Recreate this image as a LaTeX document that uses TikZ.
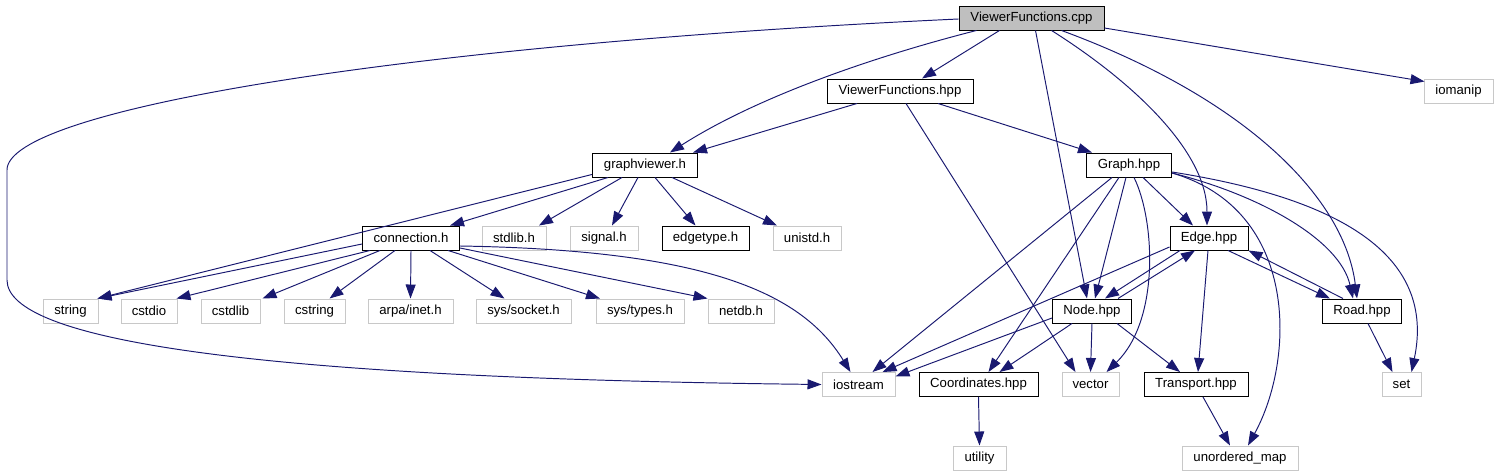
\documentclass[tikz,border=0pt]{standalone}
\usepackage{fontspec}
\setmainfont{Liberation Sans}
\usetikzlibrary{arrows.meta,calc}

\definecolor{depblue}{HTML}{191970}
\definecolor{rootgray}{HTML}{BFBFBF}
\definecolor{sysgray}{HTML}{C8C8C8}

\tikzset{
  file/.style={draw=black, rectangle, inner sep=0pt, line width=0.55pt,
    minimum height=0.48cm, font=\fontsize{7.5}{9}\selectfont},
  sysfile/.style={file, draw=sysgray},
  rootfile/.style={file, fill=rootgray},
  boxw/.style={minimum width=#1*0.02cm},
  dep/.style={draw=depblue, line width=0.55pt,
    -{Triangle[length=0.28cm,width=0.2cm]}},
}

\begin{document}
\begin{tikzpicture}[x=0.02cm, y=-0.02cm]
    \useasboundingbox (0,0) rectangle (1498,476);

    % files
    \node[rootfile, boxw=145] (vfcpp) at (1031.5,18) {ViewerFunctions.cpp};
    \node[file, boxw=146] (vfhpp) at (900,91) {ViewerFunctions.hpp};
    \node[sysfile, boxw=69] (iomanip) at (1458.5,91) {iomanip};
    \node[file, boxw=105] (gview) at (645,165) {graphviewer.h};
    \node[file, boxw=85] (graphh) at (1129,165) {Graph.hpp};
    \node[file, boxw=97] (connh) at (411,238) {connection.h};
    \node[sysfile, boxw=64] (stdlibh) at (514,238) {stdlib.h};
    \node[sysfile, boxw=68] (signalh) at (604,238) {signal.h};
    \node[file, boxw=87] (edgetypeh) at (705.5,238) {edgetype.h};
    \node[sysfile, boxw=68] (unistdh) at (807,238) {unistd.h};
    \node[file, boxw=78] (edgeh) at (1209,238) {Edge.hpp};
    \node[sysfile, boxw=55] (string) at (70.5,311) {string};
    \node[sysfile, boxw=56] (cstdio) at (149,311) {cstdio};
    \node[sysfile, boxw=59] (cstdlib) at (230.5,311) {cstdlib};
    \node[sysfile, boxw=61] (cstring) at (314.5,311) {cstring};
    \node[sysfile, boxw=85] (arpainet) at (410.5,311) {arpa/inet.h};
    \node[sysfile, boxw=95] (syssocket) at (523.5,311) {sys/socket.h};
    \node[sysfile, boxw=88] (systypes) at (640,311) {sys/types.h};
    \node[sysfile, boxw=66] (netdb) at (741,311) {netdb.h};
    \node[file, boxw=79] (nodeh) at (1092,311) {Node.hpp};
    \node[file, boxw=79] (roadh) at (1362,311) {Road.hpp};
    \node[sysfile, boxw=73] (iostream) at (858.5,384.5) {iostream};
    \node[file, boxw=119] (coordh) at (978.5,384.5) {Coordinates.hpp};
    \node[sysfile, boxw=57] (vector) at (1090.5,384.5) {vector};
    \node[file, boxw=104] (transph) at (1196,384.5) {Transport.hpp};
    \node[sysfile, boxw=39] (set) at (1401.5,384.5) {set};
    \node[sysfile, boxw=53] (utility) at (979.5,458) {utility};
    \node[sysfile, boxw=116] (umap) at (1240,458) {unordered\_map};

    % ViewerFunctions.cpp
    \draw[dep] ($(vfcpp.west)+(0,1)$) .. controls (400,45) and (7,110) .. (7,170)
        -- (7,280) .. controls (7,340) and (250,378) .. (iostream.west);
    \draw[dep] ($(vfcpp.south)+(-32,0)$) -- ($(vfhpp.north)+(22,0)$);
    \draw[dep] ($(vfcpp.south)+(-55,0)$) .. controls (880,55) and (760,95) .. ($(gview.north)+(25,0)$);
    \draw[dep] ($(vfcpp.south)+(4,0)$) -- ($(nodeh.north)+(-5,0)$);
    \draw[dep] ($(vfcpp.south)+(20,0)$) .. controls (1130,80) and (1207,150) .. ($(edgeh.north)+(-2,0)$);
    \draw[dep] ($(vfcpp.south)+(30,0)$) .. controls (1250,100) and (1345,200) .. ($(roadh.north)+(-5,0)$);
    \draw[dep] ($(vfcpp.east)+(0,10)$) -- ($(iomanip.north west)+(1,3)$);

    % ViewerFunctions.hpp
    \draw[dep] ($(vfhpp.south)+(-43,0)$) -- ($(gview.north)+(48,0)$);
    \draw[dep] ($(vfhpp.south)+(38,0)$) -- ($(graphh.north)+(-37,0)$);
    \draw[dep] ($(vfhpp.south)+(6,0)$) -- ($(vector.north)+(-15,0)$);

    % graphviewer.h
    \draw[dep] ($(gview.south west)+(0,-3)$) -- ($(string.north east)+(-1,0)$);
    \draw[dep] ($(gview.south)+(-37,0)$) -- ($(connh.north)+(39,0)$);
    \draw[dep] ($(gview.south)+(-23,0)$) -- ($(stdlibh.north)+(25,0)$);
    \draw[dep] ($(gview.south)+(-7,0)$) -- ($(signalh.north)+(8,0)$);
    \draw[dep] ($(gview.south)+(10,0)$) -- ($(edgetypeh.north)+(-10,0)$);
    \draw[dep] ($(gview.south)+(27,0)$) -- ($(unistdh.north)+(-30,0)$);

    % connection.h
    \draw[dep] ($(connh.west)+(0,6)$) -- ($(string.north east)+(-1,0)$);
    \draw[dep] ($(connh.south)+(-41,0)$) -- ($(cstdio.north east)+(-1,0)$);
    \draw[dep] ($(connh.south)+(-31,0)$) -- ($(cstdlib.north)+(32,0)$);
    \draw[dep] ($(connh.south)+(-16,0)$) -- ($(cstring.north)+(15,0)$);
    \draw[dep] (connh.south) -- (arpainet.north);
    \draw[dep] ($(connh.south)+(19,0)$) -- ($(syssocket.north)+(-19,0)$);
    \draw[dep] ($(connh.south)+(37,0)$) -- ($(systypes.north)+(-40,0)$);
    \draw[dep] ($(connh.east)+(0,10)$) -- (netdb.north west);
    \draw[dep] ($(connh.east)+(0,8)$) .. controls (700,250) and (800,290) .. ($(iostream.north)+(-8,0)$);

    % Graph.hpp
    \draw[dep] ($(graphh.south)+(-17,0)$) -- ($(iostream.north)+(14,0)$);
    \draw[dep] ($(graphh.south)+(-10,0)$) -- ($(coordh.north)+(10,0)$);
    \draw[dep] ($(graphh.south)+(-3,0)$) -- ($(nodeh.north)+(3,0)$);
    \draw[dep] ($(graphh.south)+(5,0)$) .. controls (1155,220) and (1160,320) .. ($(vector.north)+(16,0)$);
    \draw[dep] ($(graphh.south)+(14,0)$) -- ($(edgeh.north)+(-16,0)$);
    \draw[dep] ($(graphh.east)+(0,8)$) .. controls (1300,210) and (1295,360) .. ($(umap.north)+(8,0)$);
    \draw[dep] ($(graphh.east)+(0,8)$) .. controls (1260,195) and (1340,240) .. ($(roadh.north)+(-9,0)$);
    \draw[dep] ($(graphh.east)+(0,7)$) .. controls (1350,200) and (1435,260) .. ($(set.north)+(10,0)$);

    % Edge.hpp
    \draw[dep] ($(edgeh.west)+(0,9)$) -- ($(iostream.north)+(24,0)$);
    \draw[dep] ($(edgeh.south)+(-29,0)$) -- ($(nodeh.north)+(13,0)$);
    \draw[dep] ($(edgeh.south)+(-1,0)$) -- ($(transph.north)+(2,0)$);
    \draw[dep] ($(edgeh.south)+(19,0)$) -- ($(roadh.north)+(-32,0)$);

    % Node.hpp
    \draw[dep] ($(nodeh.north)+(26,0)$) -- ($(edgeh.south)+(-14,0)$);
    \draw[dep] ($(nodeh.west)+(0,7)$) -- ($(iostream.east)+(0,-8)$);
    \draw[dep] ($(nodeh.south)+(-20,0)$) -- ($(coordh.north)+(21,0)$);
    \draw[dep] (nodeh.south) -- (vector.north);
    \draw[dep] ($(nodeh.south)+(25,0)$) -- ($(transph.north)+(-16,0)$);

    % Road.hpp, Coordinates.hpp, Transport.hpp
    \draw[dep] ($(roadh.north)+(-19,0)$) -- (edgeh.south east);
    \draw[dep] ($(roadh.south)+(6,0)$) -- ($(set.north)+(-9,0)$);
    \draw[dep] (coordh.south) -- (utility.north);
    \draw[dep] ($(transph.south)+(7,0)$) -- ($(umap.north)+(-10,0)$);
\end{tikzpicture}
\end{document}
